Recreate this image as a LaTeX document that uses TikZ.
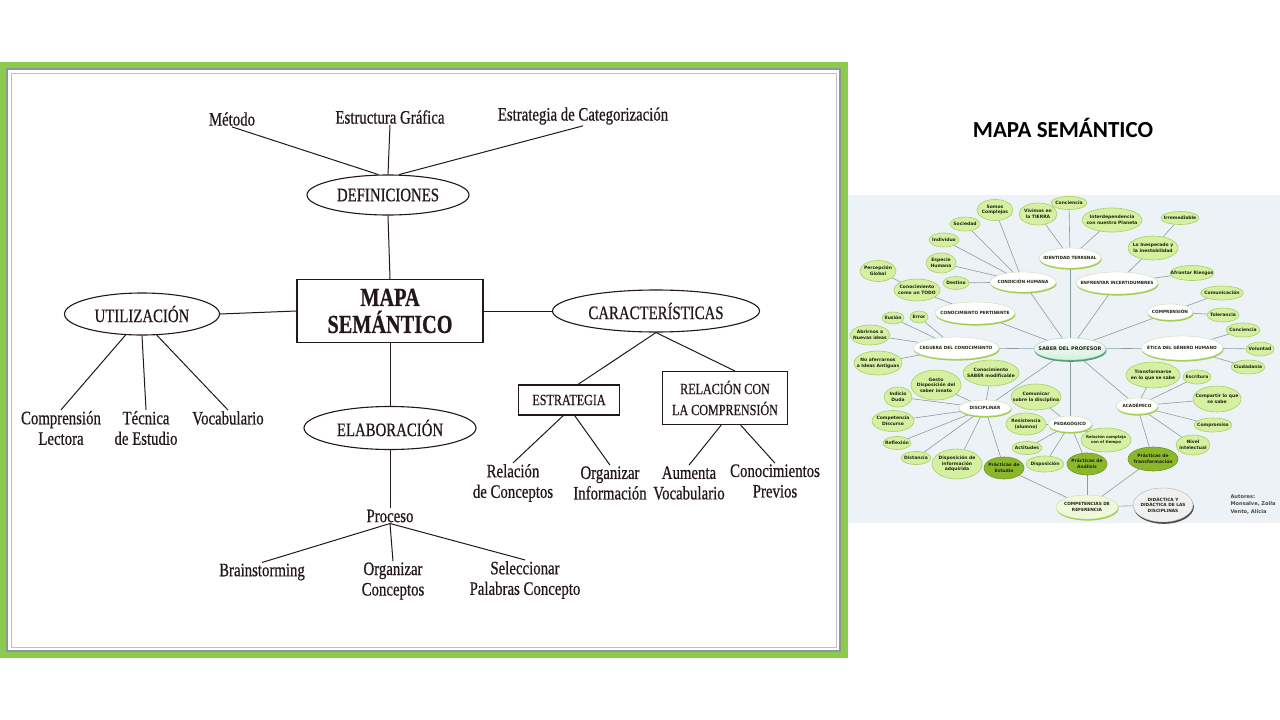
\documentclass[tikz,border=0pt]{standalone}
\usepackage{fontspec}
\usetikzlibrary{shapes.geometric,shadows}
\newfontfamily\scanfont[FakeStretch=0.78,FakeBold=0.6]{Liberation Serif}
\newfontfamily\mapfont{DejaVu Sans}
\newfontfamily\titlefont{Carlito}
\definecolor{ink}{HTML}{24171A}
\definecolor{framegreen}{HTML}{8DCB4F}
\definecolor{framegray}{HTML}{8E959B}
\definecolor{panel}{HTML}{ECF2F5}
\definecolor{leaffill}{HTML}{D6F0A2}
\definecolor{leafline}{HTML}{A6D064}
\definecolor{leafink}{HTML}{1E2412}
\definecolor{ripefill}{HTML}{8BB82B}
\definecolor{ripeline}{HTML}{6E9520}
\definecolor{topicline}{HTML}{C9DDB0}
\definecolor{topicshade}{HTML}{A2CF4A}
\definecolor{coreshade}{HTML}{4E9E72}
\definecolor{corefill}{HTML}{D3EEE0}
\definecolor{wiregray}{HTML}{8C9CA4}
\definecolor{slate}{HTML}{4A4A4A}
\pgfdeclarelayer{back}
\pgfdeclarelayer{wires}
\pgfsetlayers{back,wires,main}
\tikzset{
	word/.style={font=\scanfont\fontsize{19}{20.5}\selectfont, text=ink, align=center, inner sep=1pt},
	oval/.style={word, ellipse, draw=ink, line width=1.1pt, inner sep=0pt},
	frame/.style={word, draw=ink, line width=1.1pt, font=\scanfont\fontsize{15.5}{21}\selectfont},
	tie/.style={draw=ink, line width=1pt},
	bubble/.style 2 args={ellipse, minimum width=#1pt, minimum height=#2pt, inner xsep=-14pt, inner ysep=-3pt, font=\mapfont\bfseries\fontsize{4.5}{5.6}\selectfont, align=center, text=leafink},
	leaf/.style 2 args={bubble={#1}{#2}, fill=leaffill, draw=leafline, line width=0.6pt},
	ripe/.style 2 args={bubble={#1}{#2}, fill=ripefill, draw=ripeline, line width=0.6pt},
	topic/.style 2 args={bubble={#1}{#2}, fill=white, draw=topicline, line width=0.4pt, font=\mapfont\bfseries\fontsize{4.3}{5.4}\selectfont, drop shadow={shadow xshift=0.6pt, shadow yshift=-1.6pt, fill=topicshade, opacity=1}},
	core/.style 2 args={bubble={#1}{#2}, top color=white, bottom color=corefill, draw=coreshade!50, line width=0.4pt, font=\mapfont\bfseries\fontsize{5}{6}\selectfont, drop shadow={shadow xshift=0.6pt, shadow yshift=-1.8pt, fill=coreshade, opacity=1}},
	wire/.style={draw=wiregray, line width=0.6pt},
}
\begin{document}
\begin{tikzpicture}[x=1pt,y=-1pt]
	\useasboundingbox (0,0) rectangle (1280,720);
	\begin{pgfonlayer}{back}
		\fill[white] (0,0) rectangle (1280,720);
		\fill[framegreen] (0,62) rectangle (848,658);
		\filldraw[fill=white, draw=framegray, line width=2.5pt] (7,69) rectangle (840,651);
		\draw[framegray!60, line width=0.8pt] (11,73) rectangle (836,647);
		\fill[panel] (848,195) rectangle (1280,523);
	\end{pgfonlayer}
	\node[word] (metodo) at (232,119) {Método};
	\node[word] (estructura) at (390,117) {Estructura Gráfica};
	\node[word] (categoria) at (583,116) {Estrategia de Categorización};
	\node[oval, minimum width=162pt, minimum height=40pt] (defs) at (388,195) {DEFINICIONES};
	\node[frame, minimum width=186pt, minimum height=63pt, font=\scanfont\bfseries\fontsize{26}{27}\selectfont] (mapa) at (390,311) {MAPA\\SEMÁNTICO};
	\node[oval, minimum width=155pt, minimum height=42pt] (util) at (142,314) {UTILIZACIÓN};
	\node[oval, minimum width=207pt, minimum height=42pt] (carac) at (656,311) {CARACTERÍSTICAS};
	\node[oval, minimum width=172pt, minimum height=43pt] (elab) at (390,428) {ELABORACIÓN};
	\node[word] (complec) at (61,428) {Comprensión\\Lectora};
	\node[word] (tecnica) at (146,428) {Técnica\\de Estudio};
	\node[word] (vocab) at (228,418) {Vocabulario};
	\node[word] (proceso) at (390,516) {Proceso};
	\node[word] (brain) at (262,572) {Brainstorming};
	\node[word] (orgconc) at (393,581) {Organizar\\Conceptos};
	\node[word] (selec) at (525,580) {Seleccionar\\Palabras Concepto};
	\node[frame, minimum width=101pt, minimum height=30pt] (estrategia) at (569,400) {ESTRATEGIA};
	\node[frame, minimum width=125pt, minimum height=53pt] (relacion) at (725,398) {RELACIÓN CON\\LA COMPRENSIÓN};
	\node[word] (relconc) at (513,483) {Relación\\de Conceptos};
	\node[word] (orginfo) at (610,483) {Organizar\\Información};
	\node[word] (aumenta) at (689,483) {Aumenta\\Vocabulario};
	\node[word] (previos) at (775,481) {Conocimientos\\Previos};

	\node[font=\titlefont\bfseries\fontsize{23}{26}\selectfont] (titulo) at (1063,128) {MAPA SEMÁNTICO};

	\node[core={72}{22}] (saber) at (1070,349) {SABER DEL PROFESOR};
	\node[topic={66}{20}] (condicion) at (1023,282) {CONDICIÓN HUMANA};
	\node[topic={62}{20}] (identidad) at (1070,258) {IDENTIDAD TERRENAL};
	\node[topic={82}{22}] (enfrentar) at (1117,283) {ENFRENTAR INCERTIDUMBRES};
	\node[topic={80}{22}] (pertinente) at (975,313) {CONOCIMIENTO PERTINENTE};
	\node[topic={46}{16}] (comprension) at (1170,312) {COMPRENSIÓN};
	\node[topic={86}{22}] (ceguera) at (956,348) {CEGUERA DEL CONOCIMIENTO};
	\node[topic={82}{24}] (etica) at (1182,348) {ÉTICA DEL GÉNERO HUMANO};
	\node[topic={52}{16}] (disciplinar) at (985,408) {DISCIPLINAR};
	\node[topic={42}{16}] (academico) at (1137,406) {ACADÉMICO};
	\node[topic={44}{16}] (pedagogico) at (1070,424) {PEDAGÓGICO};
	\node[topic={62}{24}, fill=leaffill!40] (competencias) at (1087,507) {COMPETENCIAS DE\\REFERENCIA};
	\node[topic={60}{34}, fill=white!94!black, draw=gray!60, drop shadow={shadow xshift=0.8pt, shadow yshift=-1.8pt, fill=slate, opacity=1}] (didactica) at (1163,505) {DIDÁCTICA Y\\DIDÁCTICA DE LAS\\DISCIPLINAS};

	\node[leaf={36}{21}] (somos) at (995,210) {Somos\\Complejos};
	\node[leaf={38}{22}] (vivimos) at (1038,214) {Vivimos en\\la TIERRA};
	\node[leaf={36}{13}] (concienciat) at (1069,203) {Conciencia};
	\node[leaf={60}{24}] (interdep) at (1112,220) {Interdependencia\\con nuestro Planeta};
	\node[leaf={38}{13}] (irremediable) at (1180,218) {Irremediable};
	\node[leaf={50}{24}] (inesperado) at (1153,248) {Lo Inesperado y\\la inestabilidad};
	\node[leaf={44}{15}] (riesgos) at (1192,273) {Afrontar Riesgos};
	\node[leaf={43}{14}] (comunicacion) at (1222,293) {Comunicación};
	\node[leaf={32}{14}] (tolerancia) at (1223,315) {Tolerancia};
	\node[leaf={34}{14}] (concienciae) at (1243,330) {Conciencia};
	\node[leaf={28}{14}] (voluntad) at (1260,349) {Voluntad};
	\node[leaf={34}{14}] (ciudadania) at (1248,367) {Ciudadanía};
	\node[leaf={30}{14}] (sociedad) at (965,224) {Sociedad};
	\node[leaf={30}{14}] (individuo) at (944,240) {Individuo};
	\node[leaf={30}{20}] (especie) at (941,263) {Especie\\Humana};
	\node[leaf={26}{13}] (destino) at (956,283) {Destino};
	\node[leaf={36}{21}] (percepcion) at (878,271) {Percepción\\Global};
	\node[leaf={46}{22}] (todo) at (917,290) {Conocimiento\\como un TODO};
	\node[leaf={22}{12}] (ilusion) at (893,318) {Ilusión};
	\node[leaf={18}{12}] (error) at (919,317) {Error};
	\node[leaf={40}{20}] (abrirnos) at (870,335) {Abrirnos a\\Nuevas ideas};
	\node[leaf={48}{24}] (aferrarnos) at (878,363) {No aferrarnos\\a Ideas Antiguas};
	\node[leaf={50}{30}] (gesto) at (936,385) {Gesto\\Disposición del\\saber innato};
	\node[leaf={56}{26}] (modificable) at (991,373) {Conocimiento\\SABER modificable};
	\node[leaf={28}{20}] (indicio) at (898,397) {Indicio\\Duda};
	\node[leaf={50}{26}] (comunicar) at (1036,397) {Comunicar\\sobre la disciplina};
	\node[leaf={54}{26}] (transformarse) at (1153,375) {Transformarse\\en lo que se sabe};
	\node[leaf={28}{14}] (escritura) at (1197,377) {Escritura};
	\node[leaf={48}{26}] (compartir) at (1217,399) {Compartir lo que\\se sabe};
	\node[leaf={42}{21}] (competencia) at (893,421) {Competencia\\Discurso};
	\node[leaf={28}{13}] (reflexion) at (897,443) {Reflexión};
	\node[leaf={30}{13}] (distancia) at (916,458) {Distancia};
	\node[leaf={50}{30}] (adquirida) at (957,464) {Disposición de\\información\\adquirida};
	\node[leaf={40}{22}] (resistencia) at (1026,424) {Resistencia\\(alumno)};
	\node[leaf={30}{13}] (actitudes) at (1027,448) {Actitudes};
	\node[leaf={38}{16}] (disposicion) at (1045,464) {Disposición};
	\node[leaf={50}{24}, font=\mapfont\bfseries\fontsize{3.9}{5}\selectfont] (tiempo) at (1106,440) {Relación compleja\\con el tiempo};
	\node[leaf={38}{14}] (compromiso) at (1213,425) {Compromiso};
	\node[leaf={34}{20}] (nivel) at (1193,445) {Nivel\\intelectual};
	\node[ripe={40}{22}] (estudio) at (1004,468) {Prácticas de\\Estudio};
	\node[ripe={40}{22}] (analisis) at (1087,464) {Prácticas de\\Análisis};
	\node[ripe={50}{24}] (transformacion) at (1153,459) {Prácticas de\\Transformación};

	\node[font=\mapfont\bfseries\fontsize{5.1}{7.5}\selectfont, text=slate, align=left, anchor=west] (autores) at (1227,504) {Autores:\\Monsalve, Zoila\\Vento, Alicia};

	\begin{pgfonlayer}{wires}
		\foreach \a/\b in {metodo.south/defs.115, estructura.south/defs.north, categoria.south/defs.62, defs.south/mapa.north, util.east/mapa.west, mapa.east/carac.west, mapa.south/elab.north, elab.south/proceso.north, proceso.south/brain.north, proceso.south/orgconc.north, proceso.south/selec.north, util.232/complec.north, util.south/tecnica.north, util.305/vocab.north, carac.south/estrategia.60, carac.south/relacion.70, estrategia.250/relconc.north, estrategia.290/orginfo.north, relacion.262/aumenta.north, relacion.300/previos.north}
			\draw[tie] (\a) -- (\b);
		\foreach \a/\b in {saber/condicion, saber/identidad, saber/enfrentar, saber/pertinente, saber/comprension, saber/ceguera, saber/etica, saber/disciplinar, saber/academico, saber/pedagogico, identidad/concienciat, identidad/vivimos, identidad/interdep, condicion/somos, condicion/sociedad, condicion/individuo, condicion/especie, condicion/destino, enfrentar/inesperado, inesperado/irremediable, enfrentar/riesgos, pertinente/todo, todo/percepcion, comprension/comunicacion, comprension/tolerancia, etica/concienciae, etica/voluntad, etica/ciudadania, ceguera/ilusion, ceguera/error, ceguera/abrirnos, ceguera/aferrarnos, disciplinar/gesto, disciplinar/modificable, disciplinar/indicio, disciplinar/competencia, disciplinar/reflexion, disciplinar/distancia, disciplinar/adquirida, disciplinar/estudio, pedagogico/comunicar, pedagogico/resistencia, pedagogico/actitudes, pedagogico/disposicion, pedagogico/analisis, pedagogico/tiempo, academico/transformarse, academico/escritura, academico/compartir, academico/compromiso, academico/nivel, academico/transformacion, estudio/competencias, analisis/competencias, transformacion/competencias, competencias/didactica}
			\draw[wire] (\a) -- (\b);
	\end{pgfonlayer}
\end{tikzpicture}
\end{document}
